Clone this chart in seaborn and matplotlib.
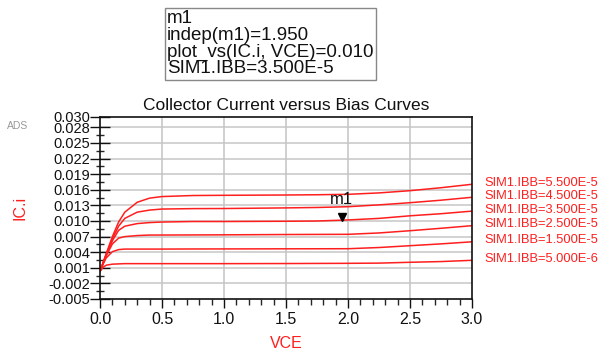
import matplotlib
matplotlib.use("Agg")
import matplotlib.pyplot as plt
import matplotlib.transforms as mtransforms
from matplotlib.ticker import FixedLocator, FixedFormatter
import pandas as pd
import seaborn as sns

# --- data ---
vce = [0, 0.025, 0.05, 0.1, 0.15, 0.2, 0.3, 0.4, 0.5, 0.75, 1.0, 1.5, 1.75, 2.0, 2.25, 2.5, 2.75, 3.0]
ic_55 = [0.0003, 0.0020, 0.0037, 0.0070, 0.0098, 0.0117, 0.0136, 0.0144, 0.0147, 0.0149, 0.01494,
         0.0150, 0.01505, 0.01513, 0.0154, 0.01583, 0.0164, 0.01706]
ic_45 = [0.0003, 0.0020, 0.0036, 0.0066, 0.0090, 0.0105, 0.0117, 0.0121, 0.0123, 0.01238, 0.0124,
         0.01252, 0.0126, 0.01275, 0.0131, 0.01352, 0.0140, 0.01456]
ic_35 = [0.0003, 0.0019, 0.0035, 0.0062, 0.0082, 0.0090, 0.0095, 0.0097, 0.0098, 0.0099, 0.0099,
         0.00995, 0.0100, 0.0102, 0.0105, 0.0110, 0.0114, 0.0119]
ic_25 = [0.0003, 0.0018, 0.0033, 0.0056, 0.0067, 0.0070, 0.0072, 0.0073, 0.0073, 0.00732, 0.00734,
         0.0074, 0.00742, 0.00744, 0.0077, 0.00813, 0.0086, 0.0091]
ic_15 = [0.0003, 0.0017, 0.0029, 0.0041, 0.0045, 0.0046, 0.0046, 0.0046, 0.0046, 0.00462, 0.00463,
         0.00465, 0.00466, 0.00467, 0.0049, 0.00525, 0.0056, 0.0060]
ic_05 = [0.0003, 0.0011, 0.0015, 0.0017, 0.00175, 0.0018, 0.0018, 0.0018, 0.0018, 0.0018, 0.0018,
         0.00182, 0.00184, 0.00186, 0.0019, 0.00206, 0.0022, 0.00244]

ibb_labels = ["SIM1.IBB=5.500E-5", "SIM1.IBB=4.500E-5", "SIM1.IBB=3.500E-5",
              "SIM1.IBB=2.500E-5", "SIM1.IBB=1.500E-5", "SIM1.IBB=5.000E-6"]
curves = [ic_55, ic_45, ic_35, ic_25, ic_15, ic_05]

y_ticks = [-0.005, -0.002, 0.001, 0.004, 0.007, 0.010, 0.013, 0.016, 0.019, 0.022, 0.025, 0.028, 0.030]
y_tick_labels = ["-0.005", "-0.002", "0.001", "0.004", "0.007", "0.010", "0.013",
                 "0.016", "0.019", "0.022", "0.025", "0.028", "0.030"]
x_ticks = [0.0, 0.5, 1.0, 1.5, 2.0, 2.5, 3.0]

marker_x = 1.95
marker_y = 0.010
marker_lines = ["m1", "indep(m1)=1.950", "plot_vs(IC.i, VCE)=0.010", "SIM1.IBB=3.500E-5"]

rows = []
for label, ic in zip(ibb_labels, curves):
    for v, i in zip(vce, ic):
        rows.append({"VCE": v, "IC": i, "IBB": label})
df = pd.DataFrame(rows)

sns.set_style("white")
plt.rcParams["font.family"] = ["Liberation Sans", "DejaVu Sans"]
plt.rcParams["axes.unicode_minus"] = False

RED = "#ff1e1e"

fig = plt.figure(figsize=(6, 3.51), dpi=100)
ax = fig.add_axes([100 / 600, 1 - 299 / 351, 372 / 600, 182 / 351])

sns.lineplot(data=df, x="VCE", y="IC", hue="IBB", palette=[RED] * len(ibb_labels),
             estimator=None, sort=False, legend=False, linewidth=1.1, ax=ax)

ax.set_xlim(0, 3.0)
ax.set_ylim(-0.005, 0.030)

# grid
for yv in y_ticks[1:-1]:
    ax.axhline(yv, color="#cfcfcf", lw=1.3, zorder=0)
for xv in x_ticks[1:-1]:
    ax.axvline(xv, color="#c4c4c4", lw=1.1, zorder=0)

ax.yaxis.set_major_locator(FixedLocator(y_ticks))
ax.yaxis.set_major_formatter(FixedFormatter(y_tick_labels))
ax.yaxis.set_minor_locator(FixedLocator([v + 0.0015 for v in y_ticks[:-2]]))
ax.set_xticks(x_ticks)
ax.set_xticklabels([f"{v:.1f}" for v in x_ticks])
ax.xaxis.set_minor_locator(FixedLocator([i / 10 for i in range(31) if i % 5]))

ax.tick_params(axis="y", which="major", direction="inout", length=14, width=1.0,
               labelsize=10.5, pad=0, colors="#111111", left=True)
ax.tick_params(axis="y", which="minor", direction="inout", length=6, width=1.0, left=True)
ax.tick_params(axis="x", which="major", direction="out", length=6.5, width=1.0,
               labelsize=11.5, pad=3, colors="#111111", bottom=True)
ax.tick_params(axis="x", which="minor", direction="out", length=4, width=1.0, bottom=True)

for sp in ax.spines.values():
    sp.set_color("#111111")
    sp.set_linewidth(1.2)

ax.set_xlabel("VCE", color=RED, fontsize=11.5, labelpad=6)
ax.set_ylabel("IC.i", color=RED, fontsize=11.5)
ax.yaxis.set_label_coords(-0.195, 0.5)
ax.set_title("Collector Current versus Bias Curves", fontsize=12.5, pad=5, color="#111111")

# curve labels on the right
for label, ic in zip(ibb_labels, curves):
    ax.annotate(label, xy=(vce[-1], ic[-1]), xytext=(8.6, 1), textcoords="offset points",
                color=RED, fontsize=9.3, va="center", ha="left", annotation_clip=False)

# marker m1
mk_trans = mtransforms.offset_copy(ax.transData, fig=fig, x=0, y=4, units="dots")
ax.plot([marker_x], [marker_y], marker="v", color="black", markersize=6,
        transform=mk_trans, linestyle="none", zorder=5)
ax.annotate("m1", xy=(marker_x, marker_y), xytext=(0, 10), textcoords="offset points",
            fontsize=12, ha="center", va="bottom", color="#111111")

# marker readout box
fig.text(167 / 600, 1 - 10 / 351, "\n".join(marker_lines), fontsize=13.5, va="top", ha="left",
         linespacing=0.98, color="#111111",
         bbox=dict(boxstyle="square,pad=0.12", facecolor="white", edgecolor="#888888", lw=1.0))

fig.text(7 / 600, 1 - 126 / 351, "ADS", fontsize=7.5, color="#999999", va="center", ha="left")

fig.savefig("out.png", dpi=100)
